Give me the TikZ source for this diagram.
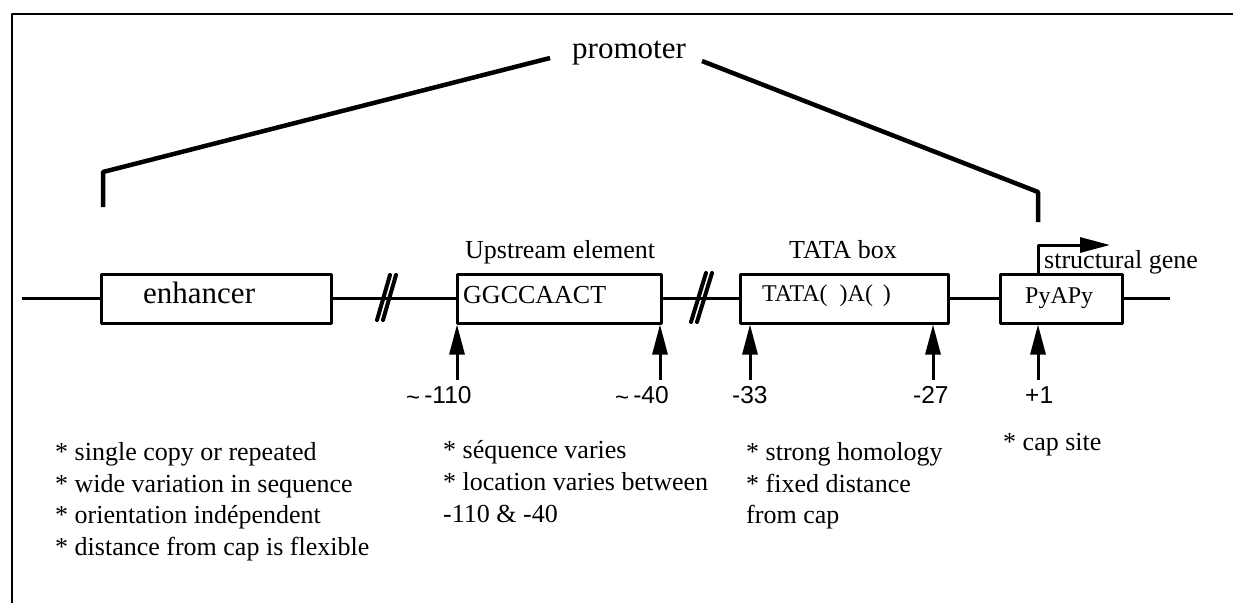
\documentclass[tikz,border=0pt]{standalone}
\usepackage{fontspec}
\setmainfont{Liberation Serif}
\setsansfont{Liberation Sans}
\usepackage{pgf,tikz}
\usetikzlibrary{arrows.meta}
\usetikzlibrary{positioning}

\newcommand{\bigsize}{\fontsize{31}{36}\selectfont}
\newcommand{\notesize}{\fontsize{26}{31}\selectfont}
\newcommand{\boxsize}{\fontsize{24}{28}\selectfont}
\newcommand{\numsize}{\fontsize{24.5}{28}\sffamily\selectfont}
\newcommand{\tildemark}{\raisebox{-2pt}{\fontsize{24}{24}\selectfont\textasciitilde}}

\begin{document}
\begin{tikzpicture}[line cap=round,line join=round,x=1pt,y=-1pt,
  genebox/.style={draw,line width=3pt,rectangle,inner sep=0pt,minimum height=49pt},
  dna/.style={line width=2.5pt,line cap=butt},
  brk/.style={line width=4pt},
  bracket/.style={line width=4.5pt,line cap=butt},
  uparrow/.style={line width=3pt,line cap=butt,-{Triangle[width=15pt,length=30pt]}},
  startarrow/.style={line width=3pt,line cap=butt,-{Triangle[width=15pt,length=30pt]}},
  txt/.style={anchor=base west,inner sep=0pt}]
\useasboundingbox (0,0) rectangle (1233,603);
%\clip(0,0) rectangle (1233,603);
\draw [line width=2.5pt,line cap=butt] (12,603)-- (12,14)-- (1233,14);
% boxes on the DNA line
\node [genebox,minimum width=230pt] (enh) at (216,298.5) {};
\node [genebox,minimum width=204pt] (ups) at (559,298.5) {};
\node [genebox,minimum width=208pt] (tata) at (844,298.5) {};
\node [genebox,minimum width=122pt] (pya) at (1061,298.5) {};
\coordinate (dnaleft) at (22,298.5);
\coordinate (dnaright) at (1170,298.5);
\draw [dna] (dnaleft)-- (enh.west);
\draw [dna] (enh.east)-- (ups.west);
\draw [dna] (ups.east)-- (tata.west);
\draw [dna] (tata.east)-- (pya.west);
\draw [dna] (pya.east)-- (dnaright);
% breaks
\draw [brk] (377,320)-- (390,275);
\draw [brk] (383,320)-- (396,275);
\draw [brk] (691,322)-- (706,273);
\draw [brk] (697,322)-- (712,273);
% promoter bracket
\node [txt,font=\bigsize] (prom) at (572,58) {promoter};
\coordinate (pl1) at (103,207);
\coordinate (pl2) at (103,172);
\coordinate (pl3) at (550,58);
\coordinate (pr1) at (702,61);
\coordinate (pr2) at (1038,192);
\coordinate (pr3) at (1038,222);
\draw [bracket] (pl1)-- (pl2)-- (pl3);
\draw [bracket] (pr1)-- (pr2)-- (pr3);
% start of transcription
\coordinate (tss) at (1038,245);
\coordinate (tssend) at (1110,245);
\draw [startarrow] (tss |- pya.north)-- (tss)-- (tssend);
% position arrows
\coordinate (m110) at (457,380);
\coordinate (m40) at (660,380);
\coordinate (m33) at (750,380);
\coordinate (m27) at (933,380);
\coordinate (p1) at (1038,380);
\draw [uparrow] (m110)-- (m110 |- ups.south);
\draw [uparrow] (m40)-- (m40 |- ups.south);
\draw [uparrow] (m33)-- (m33 |- tata.south);
\draw [uparrow] (m27)-- (m27 |- tata.south);
\draw [uparrow] (p1)-- (p1 |- pya.south);
% texts
\node [txt,font=\bigsize] (enhlabel) at (143,303) {enhancer};
\node [txt,font=\notesize] (upslabel) at (465,258) {Upstream element};
\node [txt,font=\notesize] (ggcc) at (463,303) {GGCCAACT};
\node [txt,font=\notesize] (tatalabel) at (789,258) {TATA box};
\node [txt,font=\boxsize] (tataseq) at (762,301) {TATA(\ \ )A(\ \,)};
\node [txt,font=\boxsize] (pyapy) at (1025,303) {PyAPy};
\node [txt,font=\notesize] (genelabel) at (1044,268) {structural gene};
\node [txt,font=\numsize] (n110) at (406,403) {\tildemark\,-110};
\node [txt,font=\numsize] (n40) at (615,403) {\tildemark\,-40};
\node [txt,font=\numsize] (n33) at (732,403) {-33};
\node [txt,font=\numsize] (n27) at (913,403) {-27};
\node [txt,font=\numsize] (n1) at (1025,403) {+1};
% notes
\node [txt,font=\notesize] (e1) at (55,460) {* single copy or repeated};
\node [txt,font=\notesize] (e2) at (55,492) {* wide variation in sequence};
\node [txt,font=\notesize] (e3) at (55,523) {* orientation indépendent};
\node [txt,font=\notesize] (e4) at (55,555) {* distance from cap is flexible};
\node [txt,font=\notesize] (u1) at (443,458) {* séquence varies};
\node [txt,font=\notesize] (u2) at (443,490) {* location varies between};
\node [txt,font=\notesize] (u3) at (443,522) {-110 \& -40};
\node [txt,font=\notesize] (t1) at (746,460) {* strong homology};
\node [txt,font=\notesize] (t2) at (746,492) {* fixed distance};
\node [txt,font=\notesize] (t3) at (746,523) {from cap};
\node [txt,font=\notesize] (c1) at (1003,450) {* cap site};
\end{tikzpicture}
\end{document}
